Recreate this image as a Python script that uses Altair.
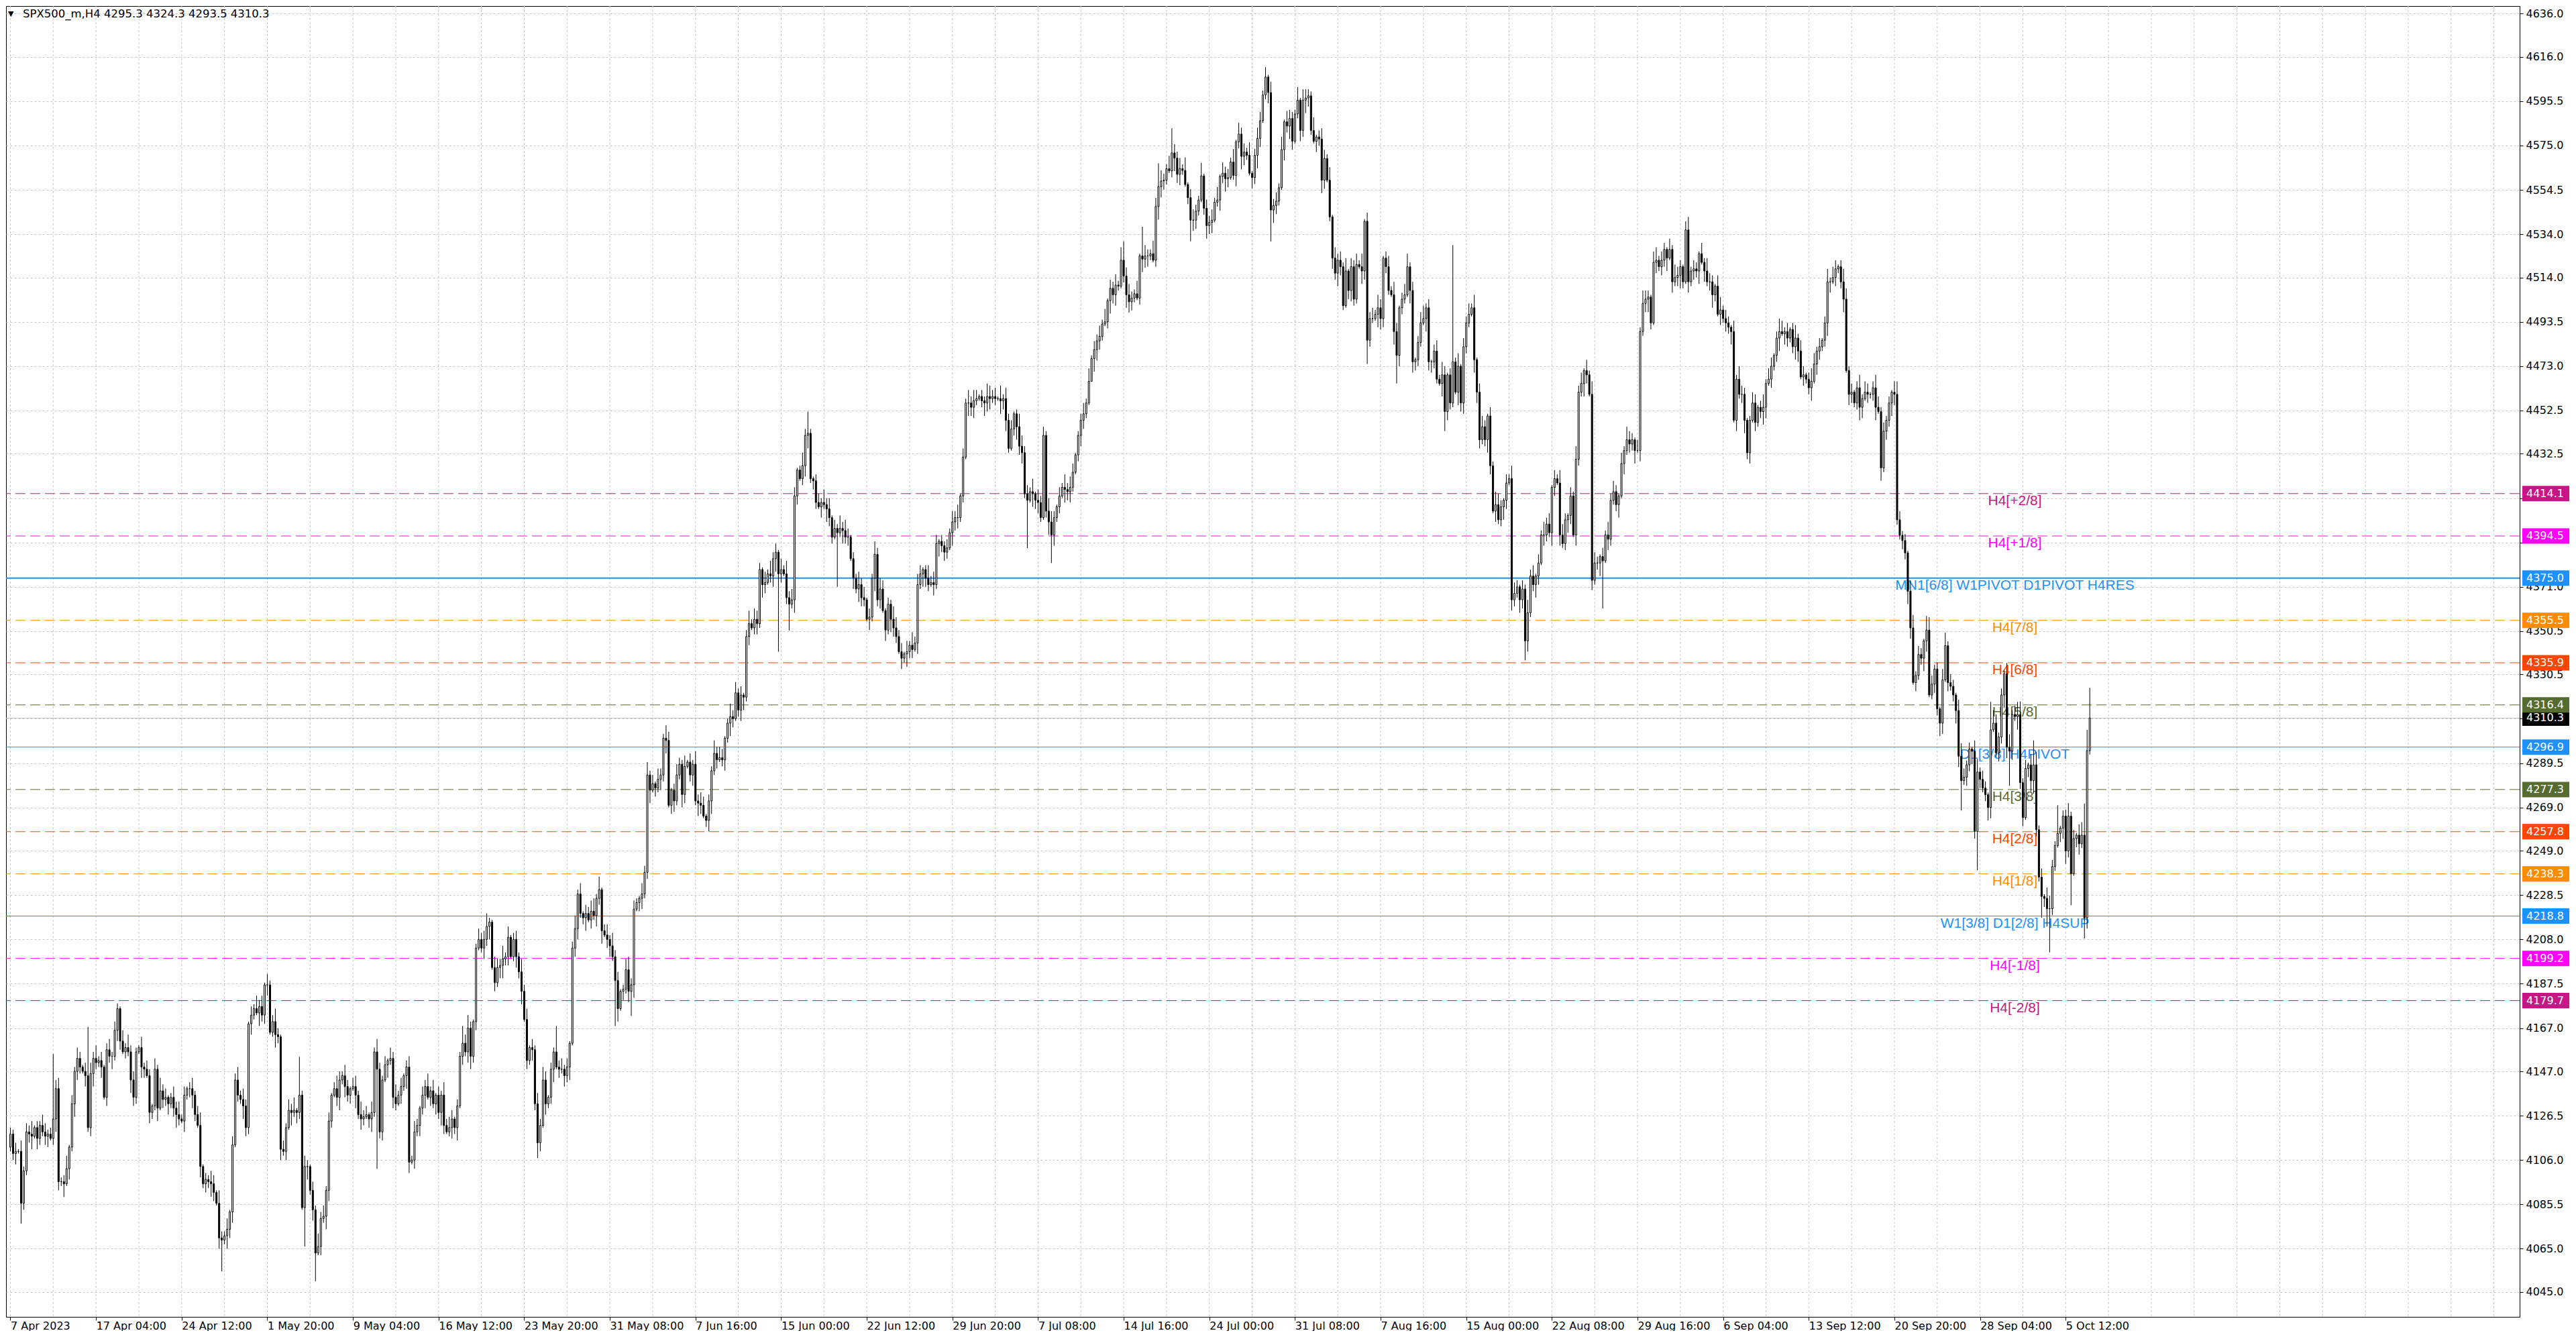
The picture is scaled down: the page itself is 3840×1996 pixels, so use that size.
import json
import pandas as pd
import altair as alt

# ---- data ----
SYMBOL_TITLE = "SPX500_m,H4  4295.3 4324.3 4293.5 4310.3"
FIRST_OPEN = 4112.0

# H4 closes, one per bar (bar 0 = 7 Apr 2023)
CLOSES = [
    # 0
    4118, 4109, 4110, 4110, 4086, 4101, 4119, 4118, 4117, 4121,
    4116, 4122, 4119, 4117, 4118, 4116, 4125, 4139, 4096, 4096,
    4095, 4102, 4112, 4132, 4147, 4153, 4149, 4147, 4145, 4121,
    4146, 4153, 4151, 4152, 4149, 4135, 4157, 4154, 4154, 4166,
    4176, 4161, 4156, 4158, 4156, 4143, 4135, 4156, 4158, 4149,
    # 50
    4148, 4145, 4128, 4131, 4148, 4130, 4138, 4134, 4135, 4132,
    4135, 4130, 4127, 4125, 4124, 4136, 4139, 4139, 4136, 4127,
    4122, 4103, 4095, 4097, 4096, 4095, 4091, 4086, 4070, 4069,
    4071, 4074, 4082, 4113, 4143, 4136, 4134, 4131, 4121, 4169,
    4173, 4176, 4174, 4177, 4173, 4187, 4187, 4165, 4170, 4164,
    # 100
    4163, 4111, 4110, 4121, 4129, 4128, 4129, 4128, 4136, 4084,
    4103, 4103, 4092, 4083, 4063, 4066, 4079, 4080, 4092, 4124,
    4136, 4139, 4135, 4143, 4145, 4140, 4136, 4139, 4140, 4136,
    4127, 4125, 4126, 4127, 4125, 4128, 4156, 4148, 4119, 4143,
    4150, 4152, 4153, 4135, 4132, 4136, 4140, 4145, 4149, 4105,
    # 150
    4106, 4119, 4122, 4130, 4136, 4140, 4135, 4138, 4132, 4136,
    4128, 4136, 4122, 4119, 4121, 4125, 4121, 4131, 4154, 4160,
    4156, 4167, 4154, 4170, 4204, 4208, 4204, 4208, 4214, 4216,
    4195, 4188, 4195, 4196, 4199, 4200, 4209, 4200, 4208, 4200,
    4193, 4184, 4171, 4152, 4158, 4157, 4132, 4114, 4122, 4143,
    # 200
    4132, 4135, 4148, 4156, 4149, 4148, 4148, 4145, 4149, 4160,
    4204, 4213, 4229, 4220, 4218, 4220, 4217, 4221, 4219, 4227,
    4231, 4212, 4210, 4208, 4205, 4200, 4189, 4176, 4184, 4185,
    4194, 4184, 4187, 4222, 4225, 4227, 4229, 4239, 4284, 4277,
    4280, 4278, 4282, 4284, 4301, 4300, 4270, 4277, 4272, 4284,
    # 250
    4289, 4275, 4288, 4290, 4284, 4289, 4272, 4271, 4270, 4265,
    4263, 4272, 4286, 4294, 4291, 4292, 4291, 4301, 4308, 4311,
    4310, 4322, 4314, 4321, 4320, 4348, 4354, 4352, 4356, 4354,
    4379, 4372, 4373, 4377, 4376, 4384, 4387, 4377, 4379, 4377,
    4366, 4363, 4365, 4413, 4425, 4421, 4427, 4441, 4442, 4421,
    # 300
    4420, 4410, 4408, 4410, 4409, 4407, 4403, 4394, 4398, 4396,
    4398, 4397, 4394, 4394, 4384, 4375, 4370, 4372, 4366, 4365,
    4356, 4357, 4375, 4386, 4365, 4370, 4360, 4351, 4363, 4356,
    4352, 4348, 4341, 4338, 4340, 4341, 4344, 4342, 4345, 4372,
    4377, 4379, 4375, 4372, 4373, 4372, 4391, 4392, 4390, 4387,
    # 350
    4389, 4396, 4401, 4403, 4403, 4413, 4431, 4456, 4456, 4454,
    4457, 4458, 4459, 4457, 4456, 4459, 4458, 4459, 4458, 4458,
    4457, 4458, 4448, 4435, 4444, 4451, 4445, 4436, 4433, 4414,
    4411, 4415, 4414, 4411, 4410, 4403, 4441, 4406, 4401, 4395,
    4403, 4408, 4413, 4417, 4416, 4415, 4417, 4424, 4432, 4441,
    # 400
    4448, 4451, 4456, 4466, 4476.5, 4480.6, 4484.7, 4486.8, 4492.5, 4493.5,
    4503.3, 4509.0, 4506.0, 4510.5, 4510.0, 4522.0, 4514.7, 4506.0, 4502.8, 4504.5,
    4506.5, 4504.5, 4524.0, 4522.5, 4524.0, 4524.0, 4525.0, 4522.0, 4546.8, 4556.0,
    4558.6, 4559.0, 4564.3, 4563.3, 4571.6, 4569.2, 4561.7, 4564.3, 4563.5, 4557.0,
    4550.9, 4540.5, 4540.5, 4544.7, 4549.8, 4561.0, 4546.0, 4538.0, 4539.5, 4540.5,
    # 450
    4548.8, 4549.8, 4560.7, 4562.2, 4559.7, 4560.2, 4567.4, 4561.2, 4576.7, 4580.3,
    4570.0, 4572.0, 4570.5, 4562.2, 4560.2, 4570.5, 4578.3, 4586.5, 4598.4, 4606.7,
    4599.5, 4545.2, 4547.3, 4549.3, 4555.5, 4573.1, 4586.0, 4584.0, 4587.5, 4577.0,
    4589.6, 4596.0, 4582.0, 4596.0, 4597, 4598, 4582, 4577, 4579, 4578,
    4559, 4569, 4559, 4542, 4523, 4516, 4522, 4519, 4501, 4517,
    # 500
    4508, 4519, 4504, 4520, 4519, 4517, 4540, 4485, 4495, 4495,
    4497, 4500, 4495, 4523, 4519, 4508, 4506, 4489, 4478, 4500,
    4504, 4506, 4519, 4508, 4475, 4476, 4484, 4493, 4495, 4500,
    4475, 4475, 4480, 4467, 4465, 4469, 4452, 4469, 4456, 4475,
    4461, 4473, 4456, 4482, 4493, 4497, 4500, 4476, 4461, 4439,
    # 550
    4445, 4439, 4450, 4427, 4406, 4409, 4402, 4408, 4411, 4419,
    4421, 4365, 4368, 4371, 4365, 4370, 4346, 4359, 4376, 4372,
    4376, 4382, 4395, 4395, 4400, 4396, 4417, 4421, 4419, 4395,
    4391, 4402, 4404, 4413, 4395, 4430, 4461, 4465, 4471, 4469,
    4460, 4374, 4382, 4382, 4385, 4383, 4395, 4393, 4411, 4415,
    # 600
    4409, 4413, 4428, 4434, 4439, 4437, 4439, 4434, 4434, 4489,
    4502, 4504, 4505, 4493, 4521, 4522, 4519, 4522, 4527, 4523,
    4527, 4512, 4514, 4515, 4519, 4512, 4536, 4512, 4517, 4518,
    4517, 4525, 4521, 4517, 4512, 4512, 4506, 4510, 4497, 4499,
    4495, 4493, 4491, 4489, 4448, 4467, 4460, 4460, 4448, 4433,
    # 650
    4448, 4456, 4447, 4454, 4452, 4454, 4465, 4467, 4473, 4478,
    4486, 4489, 4488, 4489, 4486, 4490, 4482, 4486, 4480, 4468,
    4469, 4467, 4463, 4466, 4474, 4480, 4482, 4485, 4493, 4512,
    4512, 4514, 4518, 4519, 4512, 4504, 4471, 4460, 4461, 4456,
    4463, 4454, 4458, 4461, 4460, 4460, 4463, 4454, 4452, 4426,
    # 700
    4443, 4448, 4456, 4461, 4460, 4402.0, 4394.8, 4392.4, 4386.7, 4369.0,
    4352.0, 4326.7, 4330.0, 4339.7, 4338.0, 4346.0, 4351.0, 4321.0, 4326.0, 4333.0,
    4314.6, 4308.0, 4328.0, 4343.8, 4326.7, 4325.0, 4321.0, 4313.8, 4292.7, 4281.4,
    4283.0, 4288.7, 4296.0, 4295.0, 4257.9, 4285.4, 4282.0, 4278.0, 4274.9, 4269.0,
    4304.9, 4308.0, 4294.3, 4301.6, 4321.0, 4330.8, 4296.8, 4295.0, 4312.0, 4311.0,
    # 750
    4312.0, 4280.5, 4264.3, 4287.0, 4288.7, 4281.4, 4288.7, 4258.7, 4236.8, 4227.9,
    4227.0, 4222.2, 4222.2, 4241.7, 4251.4, 4257.0, 4259.5, 4265.0, 4248.9, 4265.0,
    4238.4, 4254.6, 4256.2, 4252.2, 4256.2, 4218.0, 4295.3, 4310.3,
]

# long wicks that stand out in the picture (bar -> price)
HIGH_FIX = {
    16: 4155, 29: 4167.6, 40: 4178.4, 96: 4192, 108: 4153.7, 137: 4162,
    169: 4168, 204: 4168, 220: 4237, 298: 4452, 404: 4478, 416: 4530.7,
    423: 4537.5, 429: 4566.8, 434: 4583, 459: 4585.5, 469: 4611.3,
    506: 4541, 539: 4529, 589: 4476, 626: 4540, 716: 4357.5, 740: 4317.8,
    745: 4332.4, 750: 4317.8, 756: 4300, 765: 4270, 767: 4267.6,
    775: 4270.8, 776: 4304.9, 777: 4324.3,
}
LOW_FIX = {
    4: 4076.6, 20: 4088.9, 79: 4054.5, 110: 4066, 114: 4050, 137: 4101.9,
    197: 4107, 226: 4168, 232: 4172.6, 287: 4341, 291: 4350.8, 309: 4371,
    380: 4388.9, 389: 4382, 404: 4467, 441: 4530.7, 471: 4530.7, 507: 4474,
    518: 4465, 536: 4443, 566: 4337, 591: 4369.5, 595: 4361, 699: 4420,
    705: 4399.7, 729: 4267.6, 734: 4254.6, 735: 4240, 739: 4263, 747: 4279,
    752: 4260.3, 759: 4218, 761: 4214, 762: 4202, 770: 4223.8, 775: 4208.4,
    776: 4213, 777: 4293.5,
}

# ordinary wick lengths in points, one digit per bar
UP_WICK = "".join([
    "32415243613254231452361425314253624135243152634215",
    "24315263412536241352461325416325143625314263514236",
    "31425361425314263524136425314526341526324153624135",
    "25314362514263541325463125346215436251342635142536",
    "41326352413625143562413526341256342153624153264135",
    "32514263541326354126352413625431526341526354126352",
    "13426351426354132635142635413265341526354126354132",
    "42536142635413265341625341265342615342653142635412",
    "35261435261435261453261453264153261435261453261435",
    "26153426153426135426153426154326154326135426153426",
    "14352614352641352641356241356241352641352614352614",
    "53142653142653142635142635142653142635142653142635",
    "31526431526431562431526431562431526431562431526431",
    "25413625413652413625413652413625413652413625413652",
    "42315642315624315642315624315642315624315642315624",
    "36241536241563241536241563241536241563241536241563",
])
DOWN_WICK = "".join([
    "23514324615324513642315264315246325143625413264315",
    "41532614352463152463152436415326451326435216345126",
    "35241625314625314265314625341625314625341625314265",
    "14253614253641253614256341253614256341253614253641",
    "52361425361452361425361452361425361452361425361452",
    "26413526413562413526413562413526413562413526413562",
    "43152643152634152643152634152643152634152643152634",
    "31645231645213645231645213645231645213645231645213",
    "54213654213645213654213645213654213645213654213645",
    "12536412536421536412536421536412536421536412536421",
    "45321645321654321645321654321645321654321645321654",
    "23641523641532641523641532641523641532641523641532",
    "36152436152463152436152463152436152463152436152463",
    "51423651423615423651423615423651423615423651423615",
    "24365124365142365124365142365124365142365124365142",
    "63214563214523214563214523214563214523214563214523",
])

X_LABELS = [
    "7 Apr 2023", "17 Apr 04:00", "24 Apr 12:00", "1 May 20:00", "9 May 04:00",
    "16 May 12:00", "23 May 20:00", "31 May 08:00", "7 Jun 16:00", "15 Jun 00:00",
    "22 Jun 12:00", "29 Jun 20:00", "7 Jul 08:00", "14 Jul 16:00", "24 Jul 00:00",
    "31 Jul 08:00", "7 Aug 16:00", "15 Aug 00:00", "22 Aug 08:00", "29 Aug 16:00",
    "6 Sep 04:00", "13 Sep 12:00", "20 Sep 20:00", "28 Sep 04:00", "5 Oct 12:00",
]
Y_TICKS = [
    4636.0, 4616.0, 4595.5, 4575.0, 4554.5, 4534.0, 4514.0, 4493.5, 4473.0, 4452.5,
    4432.5, 4412.0, 4391.5, 4371.0, 4350.5, 4330.5, 4310.0, 4289.5, 4269.0, 4249.0,
    4228.5, 4208.0, 4187.5, 4167.0, 4147.0, 4126.5, 4106.0, 4085.5, 4065.0, 4045.0,
]
# tick labels that sit fully under a price tag in the reference
HIDDEN_TICKS = [4412.0, 4391.5, 4310.0]

LEVEL_PRICES = [4414.1, 4394.5, 4375.0, 4355.5, 4335.9, 4316.4, 4296.9,
                4277.3, 4257.8, 4238.3, 4218.8, 4199.2, 4179.7]
LEVEL_NAMES = ["H4[+2/8]", "H4[+1/8]", "MN1[6/8] W1PIVOT D1PIVOT H4RES", "H4[7/8]",
               "H4[6/8]", "H4[5/8]", "D1[3/8] H4PIVOT", "H4[3/8]", "H4[2/8]",
               "H4[1/8]", "W1[3/8] D1[2/8] H4SUP", "H4[-1/8]", "H4[-2/8]"]
LEVEL_COLORS = ["#C71585", "#FF00FF", "#1E90FF", "#FF8C00", "#FF4500", "#556B2F",
                "#1E90FF", "#556B2F", "#FF4500", "#FF8C00", "#1E90FF", "#FF00FF",
                "#C71585"]
LEVEL_SOLID = [False, False, True, False, False, False, True,
               False, False, False, True, False, False]
LEVEL_WIDTH = [1, 1, 2, 1, 1, 1, 1, 1, 1, 1, 1, 1, 1]
LABEL_BAR = 749
LAST_PRICE = 4310.3

# ---- layout ----
W, H = 3747, 1954
xs = alt.Scale(domain=[-0.375, 936.375], nice=False, zero=False)
ys = alt.Scale(domain=[4033.5, 4639.5], nice=False, zero=False)
GRID = "#C8C8C8"
FONT = "DejaVu Sans"

opens = [FIRST_OPEN] + CLOSES[:-1]
rows = []
for i, (o, c) in enumerate(zip(opens, CLOSES)):
    top, bot = max(o, c), min(o, c)
    h = max(HIGH_FIX.get(i, top + int(UP_WICK[i])), top)
    l = min(LOW_FIX.get(i, bot - int(DOWN_WICK[i])), bot)
    rows.append({"i": i, "o": o, "c": c, "h": h, "l": l,
                 "fill": "white" if c >= o else "black"})
bars = pd.DataFrame(rows)

levels = pd.DataFrame({
    "p": LEVEL_PRICES, "name": LEVEL_NAMES, "col": LEVEL_COLORS,
    "solid": LEVEL_SOLID, "w": LEVEL_WIDTH,
    "tag": [f"{p:.1f}" for p in LEVEL_PRICES],
})
last = pd.DataFrame({"p": [LAST_PRICE], "tag": [f"{LAST_PRICE:.1f}"]})
vgrid = pd.DataFrame({"i": list(range(0, 937, 16))})

# the same axis objects go on every layer so Vega-Lite merges them cleanly
x_axis = alt.Axis(
    values=list(range(0, 32 * len(X_LABELS), 32)),
    labelExpr=f"{json.dumps(X_LABELS)}[round(datum.value / 32)]",
    grid=False, tickSize=5, tickColor="black", domainColor="black",
    labelAlign="left", labelPadding=0, labelFont=FONT, labelFontSize=16,
    labelColor="black", labelFlush=False, labelOverlap=False, title=None,
)
y_axis = alt.Axis(
    orient="right", values=Y_TICKS,
    labelExpr=(f"indexof({json.dumps(HIDDEN_TICKS)}, datum.value) >= 0"
               " ? '' : format(datum.value, '.1f')"),
    grid=True, gridColor=GRID,
    gridDash=[3, 3], tickSize=5, tickColor="black", domainColor="black",
    labelPadding=4, labelFont=FONT, labelFontSize=16, labelColor="black",
    labelOverlap=False, labelFlush=False, title=None,
)


def X(field):
    return alt.X(field, scale=xs, axis=x_axis)


def Y(field):
    return alt.Y(field, scale=ys, axis=y_axis)


grid_layer = alt.Chart(vgrid).mark_rule(color=GRID, strokeDash=[3, 3]).encode(
    x=X("i:Q")
)
dashed = alt.Chart(levels).transform_filter("!datum.solid").mark_rule(
    strokeDash=[15, 7]
).encode(
    y=Y("p:Q"),
    color=alt.Color("col:N", scale=None),
    strokeWidth=alt.StrokeWidth("w:Q", scale=None),
)
solid = alt.Chart(levels).transform_filter("datum.solid").mark_rule().encode(
    y=Y("p:Q"),
    color=alt.Color("col:N", scale=None),
    strokeWidth=alt.StrokeWidth("w:Q", scale=None),
)
last_line = alt.Chart(last).mark_rule(color="#C0C0C0").encode(y=Y("p:Q"))
level_text = alt.Chart(levels).mark_text(
    align="center", baseline="top", font="Liberation Sans", fontSize=21
).encode(
    x=alt.datum(LABEL_BAR),
    y=Y("p:Q"),
    text="name:N",
    color=alt.Color("col:N", scale=None),
)
wicks = alt.Chart(bars).mark_rule(color="black", strokeWidth=1).encode(
    x=X("i:Q"), y=Y("l:Q"), y2="h:Q"
)
bodies = alt.Chart(bars).mark_bar(size=2, stroke="black", strokeWidth=1).encode(
    x=X("i:Q"), y=Y("o:Q"), y2="c:Q", fill=alt.Fill("fill:N", scale=None)
)
last_tag = alt.Chart(last).mark_tick(
    orient="horizontal", thickness=23, opacity=1, color="black"
).encode(x=alt.value(W + 39), y=Y("p:Q"), size=alt.value(70))
last_txt = alt.Chart(last).mark_text(
    align="left", baseline="middle", font=FONT, fontSize=16, color="white"
).encode(x=alt.value(W + 10), y=Y("p:Q"), text="tag:N")
tags = alt.Chart(levels).mark_tick(orient="horizontal", thickness=23, opacity=1).encode(
    x=alt.value(W + 39),
    y=Y("p:Q"),
    size=alt.value(70),
    color=alt.Color("col:N", scale=None),
)
tag_txt = alt.Chart(levels).mark_text(
    align="left", baseline="middle", font=FONT, fontSize=16, color="white"
).encode(x=alt.value(W + 10), y=Y("p:Q"), text="tag:N")

head = pd.DataFrame({"t": [SYMBOL_TITLE]})
title_txt = alt.Chart(head).mark_text(
    align="left", baseline="middle", font=FONT, fontSize=16.5, color="black"
).encode(x=alt.value(25), y=alt.value(12), text="t:N")
arrow = alt.Chart(head).mark_text(
    align="left", baseline="middle", font=FONT, fontSize=11, color="black", text="▼"
).encode(x=alt.value(3), y=alt.value(12))

chart = alt.layer(
    grid_layer, last_line, dashed, solid, level_text, wicks, bodies,
    last_tag, last_txt, tags, tag_txt, title_txt, arrow,
).properties(
    width=W, height=H, background="white",
    padding={"left": 0, "top": 0, "right": 0, "bottom": 0},
).configure_view(stroke="black", strokeWidth=1)

chart.save("out.html", embed_options={"renderer": "svg", "actions": False})
